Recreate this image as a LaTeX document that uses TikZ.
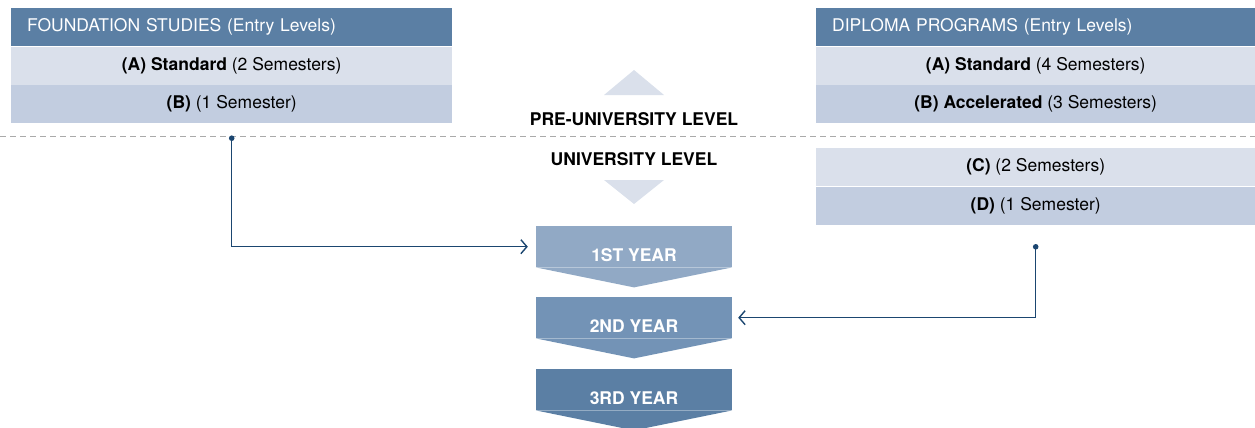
\documentclass[tikz,border=0pt]{standalone}
\usepackage{fontspec}
\setmainfont{TeX Gyre Heros}
\usetikzlibrary{arrows.meta, positioning}

\definecolor{headblue}{HTML}{5B7FA4}
\definecolor{rowlight}{HTML}{DAE0EB}
\definecolor{rowdark}{HTML}{C2CDE0}
\definecolor{yearone}{HTML}{91A9C5}
\definecolor{yeartwo}{HTML}{7393B6}
\definecolor{yearthree}{HTML}{5B7FA4}
\definecolor{linkblue}{HTML}{1B4670}
\definecolor{dashgray}{HTML}{AAAAAA}

\begin{document}
\begin{tikzpicture}[x=1pt, y=-1pt, font=\fontsize{17.5}{21}\selectfont,
        head/.style = {fill=headblue, text=white, anchor=north west, inner xsep=16pt,
                       inner ysep=0pt, minimum height=38pt, align=left},
        rowa/.style = {fill=rowlight, inner sep=0pt, minimum height=38pt},
        rowb/.style = {fill=rowdark, inner sep=0pt, minimum height=38pt},
        level/.style = {font=\fontsize{17.5}{21}\selectfont\bfseries},
        yearbox/.style = {anchor=north, inner sep=0pt, minimum width=196pt, minimum height=41pt,
                          text=white, font=\fontsize{17.5}{21}\selectfont\bfseries,
                          text height=29pt, text depth=0pt},
        link/.style = {linkblue, line width=1.4pt, -{Straight Barb[length=6pt, width=14pt]}}]
                \useasboundingbox (0,0) rectangle (1255,428);

                % Foundation studies:
                \node[head, text width=409pt] (fhead) at (11,8) {FOUNDATION STUDIES (Entry Levels)};
                \node[rowa, minimum width=441pt, below=0pt of fhead] (fa) {\textbf{(A) Standard} (2 Semesters)};
                \node[rowb, minimum width=441pt, below=0pt of fa] (fb) {\textbf{(B)} (1 Semester)};

                % Diploma programs:
                \node[head, text width=407pt] (dhead) at (816,8) {DIPLOMA PROGRAMS (Entry Levels)};
                \node[rowa, minimum width=439pt, below=0pt of dhead] (da) {\textbf{(A) Standard} (4 Semesters)};
                \node[rowb, minimum width=439pt, below=0pt of da] (db) {\textbf{(B) Accelerated} (3 Semesters)};
                \node[rowa, minimum width=439pt, anchor=north west] (dc) at (816,148) {\textbf{(C)} (2 Semesters)};
                \node[rowb, minimum width=439pt, below=0pt of dc] (dd) {\textbf{(D)} (1 Semester)};

                % Level divider:
                \draw[dashgray, line width=1pt, dash pattern=on 6pt off 4pt] (0,136) -- (1255,136);
                \fill[rowlight] (604,95) -- (634,70) -- (664,95) -- cycle;
                \node[level] (pre) at (634,119) {PRE-UNIVERSITY LEVEL};
                \node[level] (uni) at (634,159) {UNIVERSITY LEVEL};
                \fill[rowlight] (604,180) -- (664,180) -- (634,204) -- cycle;

                % Years:
                \foreach \y/\c/\t [count=\i] in {226/yearone/1ST YEAR, 297/yeartwo/2ND YEAR, 369/yearthree/3RD YEAR} {
                    \node[yearbox, fill=\c] (yr\i) at (634,\y) {\t};
                    \fill[\c] (yr\i.south west) -- (yr\i.south east) -- ([yshift=-20pt]yr\i.south) -- cycle;
                }

                % Entry links:
                \coordinate (fdot) at ([yshift=-15pt]fb.south);
                \coordinate (ddot) at ([yshift=-22pt]dd.south);
                \fill[linkblue] (fdot) circle (2.8pt);
                \fill[linkblue] (ddot) circle (2.8pt);
                \draw[link] (fdot) |- ([xshift=-8pt]yr1.west);
                \draw[link] (ddot) |- ([xshift=6pt]yr2.east);
            \end{tikzpicture}
\end{document}
